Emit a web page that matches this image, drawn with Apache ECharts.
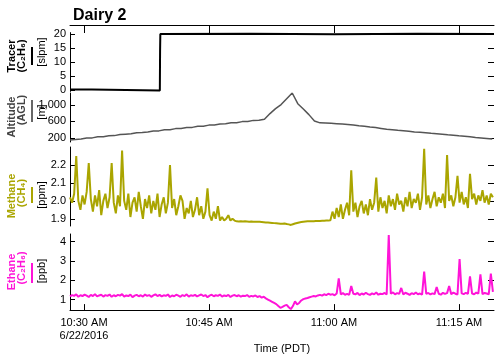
<!DOCTYPE html>
<html>
<head>
<meta charset="utf-8">
<script src="https://cdn.jsdelivr.net/npm/echarts@6/dist/echarts.min.js"></script>
<style>
  html, body { margin: 0; padding: 0; background: #fff; }
  #chart { width: 500px; height: 355px; }
</style>
</head>
<body>
<div id="chart"></div>
<script>
// x values are minutes after 10:00 (PDT, 6/22/2016)
var xMin = 28.32, xMax = 79.2;
var tickTimes = [30, 45, 60, 75];
var tickLabels = ['10:30 AM\n6/22/2016', '10:45 AM', '11:00 AM', '11:15 AM'];

// tracer release rate [slpm]
var tracerTimes = [28.32, 30.95, 30.96, 39.10, 39.13, 39.16, 50, 60, 70, 79.2];
var tracerValues = [0.2, 0.2, -0.2, -0.2, 14, 20, 20.1, 19.9, 20.1, 20];

// altitude [m AGL], one reading every 40 s from xMin
var altStep = 2 / 3;
var altValues = [
  150, 160, 175, 195, 200, 225, 230, 250, 255, 280,
  290, 300, 325, 330, 345, 365, 370, 395, 400, 425,
  430, 450, 455, 480, 485, 510, 515, 535, 545, 565,
  570, 595, 600, 625, 630, 650, 790, 910, 1010, 1150,
  1290, 1030, 900, 765, 610, 565, 560, 555, 545, 535,
  525, 510, 495, 485, 465, 450, 430, 410, 400, 385,
  375, 360, 345, 335, 325, 310, 300, 290, 275, 265,
  250, 240, 225, 210, 200, 185, 170
];

// gas readings, one every 15 s from xMin
var gasStep = 0.25;
var ch4Values = [
  2.02, 1.99, 2.04, 2.25, 2.00, 1.95, 2.03, 1.98, 2.05, 2.21,
  2.01, 1.94, 2.03, 1.97, 2.06, 1.92, 2.00, 2.04, 1.96, 2.02,
  2.21, 1.99, 1.93, 2.03, 1.97, 2.28, 2.00, 1.95, 2.04, 1.91,
  1.99, 2.02, 1.94, 2.05, 1.97, 1.90, 2.01, 1.96, 2.03, 1.93,
  2.00, 1.95, 2.04, 1.91, 1.98, 2.02, 1.93, 1.99, 2.20, 1.96,
  2.01, 1.92, 1.97, 2.03, 2.00, 1.90, 1.96, 1.93, 2.00, 1.91,
  1.95, 2.02, 1.92, 1.97, 1.90, 1.94, 2.07, 1.92, 1.89, 1.94,
  1.90, 1.97, 1.89, 1.91, 1.89, 1.90, 1.92, 1.89, 1.90, 1.89,
  1.886, 1.885, 1.887, 1.885, 1.886, 1.885, 1.884, 1.885, 1.884, 1.884,
  1.883, 1.883, 1.882, 1.881, 1.880, 1.879, 1.878, 1.877, 1.876, 1.875,
  1.874, 1.873, 1.872, 1.874, 1.871, 1.869, 1.866, 1.870, 1.874, 1.877,
  1.880, 1.882, 1.884, 1.885, 1.886, 1.886, 1.887, 1.887, 1.888, 1.888,
  1.888, 1.889, 1.889, 1.890, 1.890, 1.892, 1.94, 1.90, 1.96, 1.91,
  1.98, 1.90, 1.95, 1.99, 1.92, 2.17, 1.94, 1.99, 1.91, 1.97,
  2.00, 1.93, 1.98, 1.92, 2.01, 1.95, 1.99, 2.13, 1.94, 2.02,
  1.96, 2.00, 1.93, 2.03, 1.97, 2.01, 1.95, 2.04, 1.98, 2.00,
  1.94, 2.02, 1.97, 2.05, 1.96, 2.01, 1.99, 2.04, 1.95, 2.02,
  2.29, 1.98, 2.03, 1.96, 2.01, 2.05, 1.97, 2.02, 1.99, 2.04,
  1.96, 2.255, 2.00, 2.03, 1.97, 2.02, 2.14, 1.99, 2.05, 1.98,
  2.02, 1.96, 2.15, 2.01, 2.04, 1.98, 2.03, 2.00, 2.06, 1.99,
  2.03, 1.98, 2.04, 2.02
];
var c2h6Values = [
  1.16, 1.23, 1.19, 1.27, 1.14, 1.22, 1.18, 1.25, 1.20, 1.13,
  1.24, 1.18, 1.28, 1.16, 1.21, 1.25, 1.15, 1.23, 1.19, 1.26,
  1.14, 1.22, 1.17, 1.24, 1.20, 1.28, 1.15, 1.21, 1.18, 1.25,
  1.12, 1.20, 1.24, 1.17, 1.22, 1.15, 1.26, 1.19, 1.23, 1.14,
  1.21, 1.27, 1.18, 1.24, 1.16, 1.22, 1.19, 1.26, 1.13, 1.21,
  1.17, 1.25, 1.20, 1.14, 1.23, 1.18, 1.27, 1.15, 1.22, 1.19,
  1.24, 1.16, 1.21, 1.26, 1.18, 1.23, 1.12, 1.20, 1.25, 1.17,
  1.22, 1.19, 1.26, 1.15, 1.21, 1.18, 1.24, 1.13, 1.20, 1.23,
  1.17, 1.22, 1.15, 1.20, 1.18, 1.23, 1.14, 1.19, 1.16, 1.21,
  1.13, 1.18, 1.10, 1.14, 1.06, 1.00, 0.94, 0.88, 0.82, 0.76,
  0.66, 0.57, 0.62, 0.68, 0.72, 0.60, 0.50, 0.66, 0.90, 0.75,
  0.82, 0.95, 1.02, 1.05, 1.08, 1.12, 1.15, 1.18, 1.16, 1.21,
  1.24, 1.20, 1.27, 1.23, 1.30, 1.25, 1.28, 1.22, 1.31, 2.10,
  1.26, 1.33, 1.25, 1.29, 1.24, 1.70, 1.30, 1.27, 1.34, 1.23,
  1.31, 1.26, 1.35, 1.28, 1.24, 1.32, 1.27, 1.36, 1.25, 1.30,
  1.28, 1.34, 1.26, 4.35, 1.30, 1.37, 1.27, 1.33, 1.29, 1.60,
  1.26, 1.35, 1.30, 1.24, 1.33, 1.28, 1.36, 1.27, 1.31, 1.25,
  2.45, 1.29, 1.34, 1.26, 1.32, 1.28, 1.65, 1.30, 1.25, 1.35,
  1.29, 1.33, 1.70, 1.27, 1.36, 1.30, 1.26, 3.10, 1.32, 1.28,
  1.35, 1.29, 2.20, 1.31, 1.27, 1.36, 1.30, 2.30, 1.28, 1.34,
  1.31, 1.27, 2.35, 1.40
];

var FONT = 'Liberation Sans, Arial, sans-serif';
var colors = { tracer: '#000000', alt: '#555555', ch4: '#aaa500', c2h6: '#ff14d8' };

function series(start, step, values) {
  return values.map(function (v, i) { return [start + i * step, v]; });
}

// y axis pair (labelled left + mirror ticks right) for one panel
function yPair(grid, min, max, ticks, fmt) {
  var left = {
    type: 'value', gridIndex: grid, min: min, max: max, position: 'left',
    axisLine: { show: true, lineStyle: { color: '#000', width: 1 } },
    axisTick: { show: true, inside: true, length: 5, customValues: ticks, lineStyle: { color: '#000' } },
    axisLabel: { customValues: ticks, margin: 4, fontSize: 11, fontFamily: FONT, color: '#000', formatter: fmt },
    splitLine: { show: false }
  };
  var right = {
    type: 'value', gridIndex: grid, min: min, max: max, position: 'right',
    axisLine: { show: false },
    axisTick: { show: true, inside: true, length: 6, customValues: ticks, lineStyle: { color: '#000' } },
    axisLabel: { show: false },
    splitLine: { show: false }
  };
  return [left, right];
}

function xAxis(grid, opts) {
  var a = {
    type: 'value', gridIndex: grid, min: xMin, max: xMax,
    axisLine: { show: false }, axisTick: { show: false }, axisLabel: { show: false },
    splitLine: { show: false }
  };
  return Object.assign(a, opts || {});
}

function vtext(x, y, text, color, bold) {
  return {
    type: 'text', x: x, y: y, rotation: Math.PI / 2,
    style: {
      text: text, fill: color, align: 'center', verticalAlign: 'middle',
      font: (bold ? 'bold ' : '') + '11px ' + FONT
    }
  };
}
function vline(x, y1, y2, color) {
  return { type: 'line', shape: { x1: x, y1: y1, x2: x, y2: y2 }, style: { stroke: color, lineWidth: 2 } };
}

var chart = echarts.init(document.getElementById('chart'), null, { renderer: 'canvas' });

var yAxes = []
  .concat(yPair(0, -0.5, 20.5, [0, 5, 10, 15, 20]))
  .concat(yPair(1, 100, 1290, [200, 600, 1000]))
  .concat(yPair(2, 1.86, 2.3, [1.9, 2.0, 2.1, 2.2], function (v) { return v.toFixed(1); }))
  .concat(yPair(3, 0.45, 4.4, [1, 2, 3, 4]));

chart.setOption({
  animation: false,
  title: {
    text: 'Dairy 2', left: 68, top: 3,
    textStyle: { fontSize: 16, fontWeight: 'bold', fontFamily: FONT, color: '#000' }
  },
  grid: [
    { left: 70, right: 6, top: 32.6, height: 58.8 },
    { left: 70, right: 6, top: 93, height: 49 },
    { left: 70, right: 6, top: 147, height: 79 },
    { left: 70, right: 6, top: 234, height: 79 }
  ],
  xAxis: [
    xAxis(0, {
      position: 'top', offset: 7.6,
      axisLine: { show: true, onZero: false, lineStyle: { color: '#000', width: 1 } },
      axisTick: { show: true, inside: true, length: 8, customValues: tickTimes, lineStyle: { color: '#000' } }
    }),
    xAxis(1),
    xAxis(2),
    xAxis(3, {
      position: 'bottom',
      name: 'Time (PDT)', nameLocation: 'middle', nameGap: 20,
      nameTextStyle: { fontSize: 11, fontFamily: FONT, color: '#000' },
      axisLine: { show: true, onZero: false, lineStyle: { color: '#000', width: 1 } },
      axisTick: { show: true, inside: true, length: 6, customValues: tickTimes, lineStyle: { color: '#000' } },
      axisLabel: {
        show: true, customValues: tickTimes, margin: 6, fontSize: 11, lineHeight: 13,
        fontFamily: FONT, color: '#000',
        formatter: function (v) { return tickLabels[tickTimes.indexOf(v)] || ''; }
      }
    })
  ],
  yAxis: yAxes,
  series: [
    {
      name: 'Tracer', type: 'line', xAxisIndex: 0, yAxisIndex: 0, showSymbol: false,
      data: tracerTimes.map(function (t, i) { return [t, tracerValues[i]]; }),
      lineStyle: { color: colors.tracer, width: 2 }
    },
    {
      name: 'Altitude', type: 'line', xAxisIndex: 1, yAxisIndex: 2, showSymbol: false,
      data: series(xMin, altStep, altValues),
      lineStyle: { color: colors.alt, width: 1.5 }
    },
    {
      name: 'Methane', type: 'line', xAxisIndex: 2, yAxisIndex: 4, showSymbol: false,
      data: series(xMin, gasStep, ch4Values),
      lineStyle: { color: colors.ch4, width: 2 }
    },
    {
      name: 'Ethane', type: 'line', xAxisIndex: 3, yAxisIndex: 6, showSymbol: false,
      data: series(xMin, gasStep, c2h6Values),
      lineStyle: { color: colors.c2h6, width: 2 }
    }
  ],
  graphic: [
    vtext(12, 56, 'Tracer', '#000', true),
    vtext(22, 56, '(C\u2082H\u2086)', '#000', true),
    vline(32, 47, 65, colors.tracer),
    vtext(42, 52, '[slpm]', '#000', false),

    vtext(12, 117, 'Altitude', '#444', true),
    vtext(22, 110, '(AGL)', '#444', true),
    vline(32, 100, 122, '#666'),
    vtext(42, 112, '[m]', '#000', false),

    vtext(12, 196, 'Methane', colors.ch4, true),
    vtext(22, 193, '(CH\u2084)', colors.ch4, true),
    vline(32, 187, 203, colors.ch4),
    vtext(42, 195, '[ppm]', '#000', false),

    vtext(12, 272, 'Ethane', colors.c2h6, true),
    vtext(22, 268, '(C\u2082H\u2086)', colors.c2h6, true),
    vline(32, 263, 283, colors.c2h6),
    vtext(42, 271, '[ppb]', '#000', false)
  ]
});
</script>
</body>
</html>
